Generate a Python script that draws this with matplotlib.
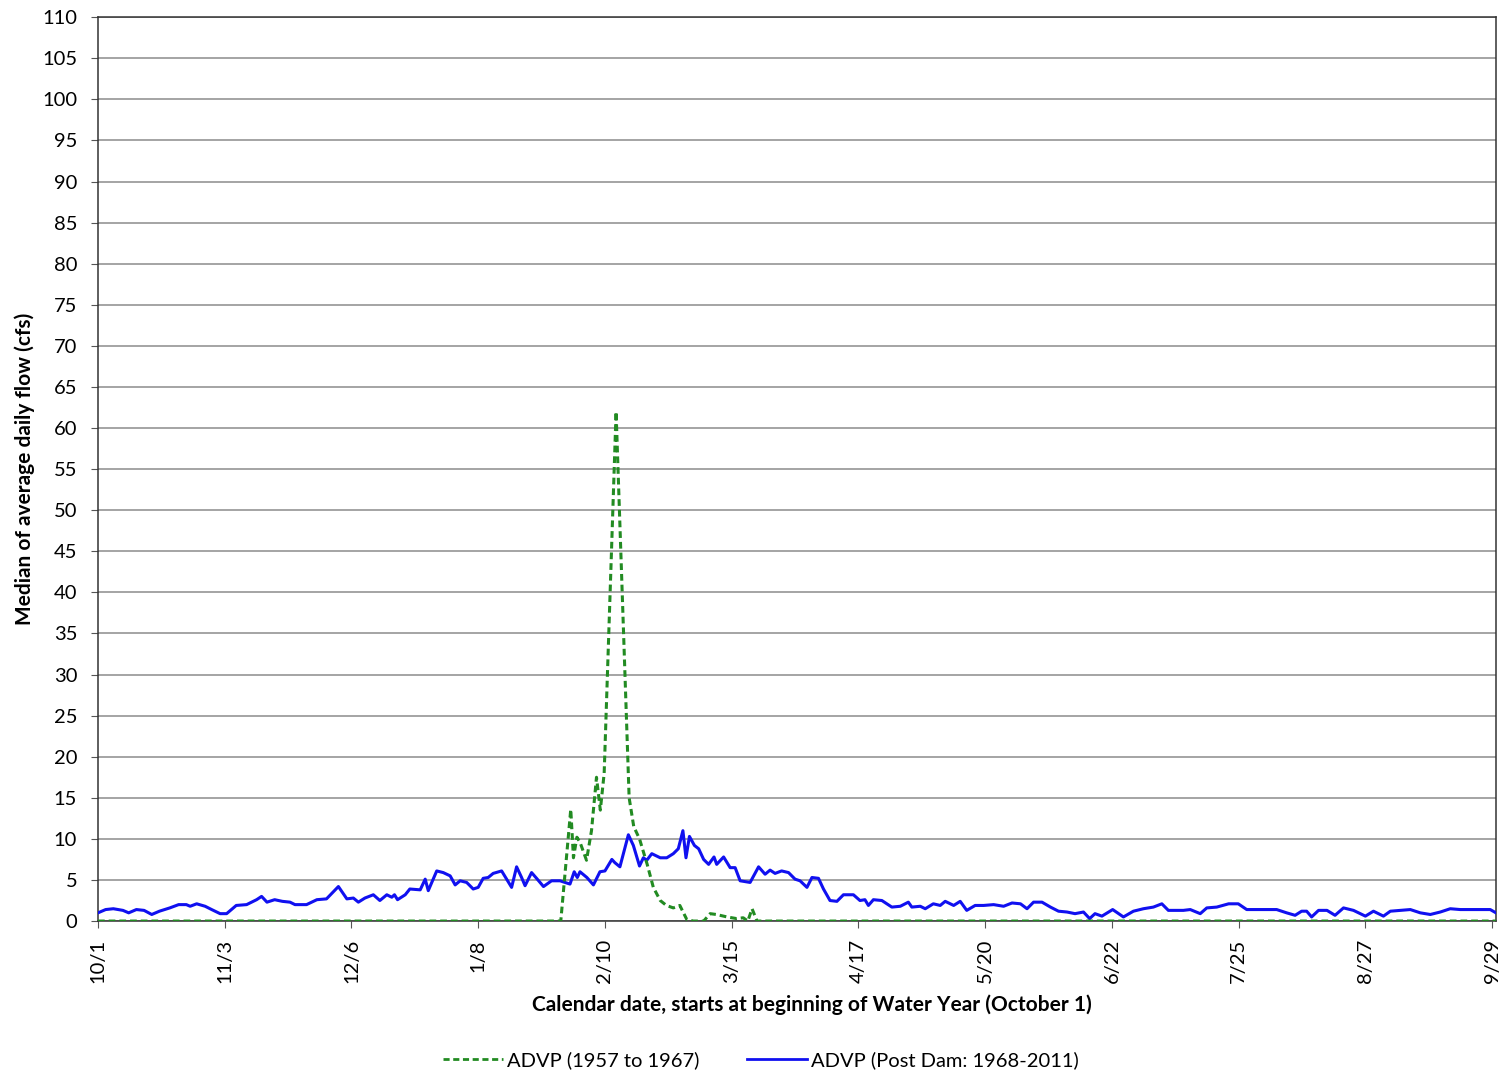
import matplotlib
matplotlib.use("Agg")
import matplotlib.pyplot as plt
from matplotlib.lines import Line2D

plt.rcParams['font.family'] = ['Lato', 'DejaVu Sans']

# Day of water year (0 = Oct 1)
tick_days = [0, 33, 66, 99, 132, 165, 198, 231, 264, 297, 330, 363]
tick_labels = ["10/1", "11/3", "12/6", "1/8", "2/10", "3/15", "4/17",
               "5/20", "6/22", "7/25", "8/27", "9/29"]

post_days = [0, 2, 4, 6.5, 8, 10, 12, 14, 16, 18.7, 21, 23, 24, 25.7, 27.9, 29.6,
             31.8, 33.5, 36, 38.7, 41.3, 42.6, 44, 46, 48, 50, 51.3, 54.3, 57, 59.5,
             62.6, 64.8, 66.5, 67.8, 69.5, 71.7, 73.4, 75.2, 76.5, 77.2, 78, 80, 81.2,
             83.9, 85.2, 86, 88.2, 89.9, 91.7, 93, 94.3, 96, 97.7, 99, 100.3, 101.6,
             102.9, 105.1, 106.4, 107.7, 109, 110.3, 111.2, 112.9, 114.2, 116, 118.1,
             120.3, 122.9, 124, 124.8, 125.5, 127.3, 129, 130.7, 132, 133.8, 134.6,
             135.9, 138.1, 139.4, 141, 142, 142.9, 144.2, 146.4, 148.1, 149.8, 151.1,
             152.3, 153.1, 154, 155.3, 156.4, 157.7, 159, 160.4, 161.1, 162.9, 164.6,
             165.9, 167.2, 169.8, 172, 173.7, 175, 176.3, 178, 179.8, 181.5, 182.8,
             184.6, 185.9, 187.6, 188.9, 190.6, 192.4, 194.1, 196.7, 198.4, 199.7,
             200.6, 201.9, 204.1, 206.7, 208.9, 211, 211.9, 214.1, 215.4, 217.5, 219.3,
             220.6, 222.8, 224.5, 226.2, 228.4, 230.6, 233.2, 235.8, 238, 240.2, 241.9,
             243.6, 245.8, 248, 250.1, 252.3, 254.4, 256.6, 258.2, 259.6, 261.4, 264.2,
             267, 269.6, 272.2, 274.8, 277, 278.7, 282.6, 284.4, 287, 288.7, 291.3,
             294.4, 296.9, 299.1, 301.7, 304.3, 306.9, 309.5, 311.7, 313.4, 314.7, 316,
             317.8, 320, 322.1, 324.3, 326.9, 330, 332.1, 334.7, 336.5, 339.1, 341.7,
             344.3, 346.9, 349.5, 352.1, 354.7, 357.3, 360.8, 362.5, 364]
post_flow = [1.0, 1.4, 1.5, 1.3, 1.0, 1.4, 1.3, 0.8, 1.2, 1.6, 2.0, 2.0, 1.8, 2.1, 1.8, 1.4,
             0.9, 0.9, 1.9, 2.0, 2.6, 3.0, 2.3, 2.6, 2.4, 2.3, 2.0, 2.0, 2.6, 2.7,
             4.2, 2.7, 2.8, 2.3, 2.8, 3.2, 2.5, 3.2, 2.9, 3.2, 2.6, 3.2, 3.9,
             3.8, 5.1, 3.7, 6.1, 5.9, 5.5, 4.4, 4.9, 4.7, 3.9, 4.1, 5.2, 5.3,
             5.8, 6.1, 5.1, 4.1, 6.6, 5.3, 4.3, 5.9, 5.2, 4.2, 4.9,
             4.9, 4.5, 6.0, 5.3, 6.0, 5.3, 4.4, 6.0, 6.1, 7.5, 7.1,
             6.6, 10.5, 9.2, 6.7, 7.7, 7.4, 8.2, 7.7, 7.7, 8.2, 8.8,
             11.0, 7.7, 10.3, 9.2, 8.8, 7.5, 6.9, 7.8, 6.9, 7.8, 6.5,
             6.5, 4.9, 4.7, 6.6, 5.7, 6.2, 5.8, 6.1, 5.9, 5.1, 4.9,
             4.1, 5.3, 5.2, 3.9, 2.5, 2.4, 3.2, 3.2, 2.5, 2.6,
             1.9, 2.6, 2.5, 1.7, 1.8, 2.3, 1.7, 1.8, 1.5, 2.1, 1.9,
             2.4, 1.9, 2.4, 1.3, 1.9, 1.9, 2.0, 1.8, 2.2, 2.1, 1.5,
             2.3, 2.3, 1.7, 1.2, 1.1, 0.9, 1.1, 0.3, 0.9, 0.6, 1.4,
             0.5, 1.2, 1.5, 1.7, 2.1, 1.3, 1.3, 1.4, 0.9, 1.6, 1.7,
             2.1, 2.1, 1.4, 1.4, 1.4, 1.4, 1.0, 0.7, 1.2, 1.2, 0.5,
             1.3, 1.3, 0.7, 1.6, 1.3, 0.6, 1.2, 0.6, 1.2, 1.3, 1.4,
             1.0, 0.8, 1.1, 1.5, 1.4, 1.4, 1.4, 1.4, 1.0]

pre_days = [0, 120.5, 123.1, 123.8, 124.7, 125.5, 127.2, 128.5, 129.8, 130.8, 131.8,
            134.9, 138.3, 139.5, 141, 143, 144.6, 146.4, 148, 149.8, 151.5, 153.3,
            155, 157.7, 159.4, 161, 163.8, 166.3, 168, 169.2, 170.3, 171.6, 364]
pre_flow = [0, 0, 13.6, 7.7, 10.2, 9.6, 7.4, 11.0, 17.5, 13.5, 18.0,
            62.0, 15.0, 11.5, 10.0, 6.9, 4.1, 2.5, 1.9, 1.6, 1.9, 0.2,
            0, 0, 0.9, 0.8, 0.5, 0.3, 0.4, 0, 1.5, 0, 0]

fig = plt.figure(figsize=(15.05, 10.76), dpi=100)
ax = fig.add_axes([0.0651, 0.144, 0.9289, 0.840])

green = "#228B22"
blue = "#1010F0"
ax.plot(post_days, post_flow, color=blue, lw=2.2, zorder=3)
ax.plot(pre_days, pre_flow, color=green, lw=2.2, ls=(0, (2.2, 1.3)), zorder=4)

ax.set_xlim(0, 364)
ax.set_ylim(0, 110)
ax.set_yticks(range(0, 111, 5))
ax.set_xticks(tick_days)
ax.set_xticklabels(tick_labels, rotation=90)
ax.tick_params(axis='both', labelsize=14.5, direction='out', length=5, color='#555555')
ax.tick_params(axis='y', pad=10)
ax.tick_params(axis='x', pad=8)
ax.yaxis.grid(True, color='#8c8c8c', lw=1.1)
ax.set_axisbelow(True)
for s in ax.spines.values():
    s.set_color('#333333')
    s.set_linewidth(1.1)

ax.set_ylabel("Median of average daily flow (cfs)", fontsize=15, fontweight='bold', labelpad=5)
ax.set_xlabel("Calendar date, starts at beginning of Water Year (October 1)",
              fontsize=15, fontweight='bold', labelpad=8)
ax.xaxis.label.set_x(0.511)

handles = [Line2D([], [], color=green, lw=2, ls=(0, (2.2, 1.3))),
           Line2D([], [], color=blue, lw=2)]
fig.legend(handles, ["ADVP (1957 to 1967)", "ADVP (Post Dam: 1968-2011)"],
           loc='center', bbox_to_anchor=(0.5057, 0.015), ncol=2, frameon=False,
           fontsize=14.5, handlelength=3.0, columnspacing=2.35, handletextpad=0.2)

fig.savefig("out.png", dpi=100)
